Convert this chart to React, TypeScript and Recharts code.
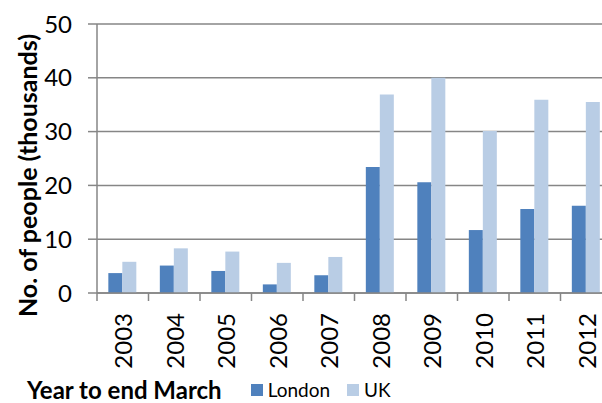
import { BarChart, Bar, XAxis, YAxis, CartesianGrid, Legend } from "recharts";

const years = ["2003", "2004", "2005", "2006", "2007", "2008", "2009", "2010", "2011", "2012"];
const london = [3.7, 5.1, 4.1, 1.6, 3.3, 23.4, 20.6, 11.7, 15.6, 16.2];
const uk = [5.8, 8.3, 7.7, 5.6, 6.7, 36.9, 40.0, 30.1, 35.9, 35.5];
const yTicks = [0, 10, 20, 30, 40, 50];

const LONDON = "#4F81BD";
const UK = "#B9CDE5";
const GRID = "#868686";
const FONT = "Lato, 'Open Sans', sans-serif";

const data = years.map((year, i) => ({ year, London: london[i], UK: uk[i] }));

// tick mark sits on the band boundary, label is rotated
function YearTick(props: any) {
  const { x, y, payload } = props;
  const half = payload && payload.offset ? payload.offset : 25.75;
  return (
    <g>
      <line x1={x - half} x2={x - half} y1={y} y2={y + 8} stroke={GRID} strokeWidth={1.5} />
      <text
        x={x}
        y={y + 20}
        transform={`rotate(-90 ${x} ${y + 20})`}
        textAnchor="end"
        dominantBaseline="central"
        fontFamily={FONT}
        fontSize={24}
        fill="#000"
      >
        {payload.value}
      </text>
    </g>
  );
}

function YTitle(props: any) {
  const vb = props.viewBox || { x: 0, y: 24, width: 97, height: 269 };
  const cx = vb.x + 27;
  const cy = vb.y + vb.height / 2 + 17;
  return (
    <text
      x={cx}
      y={cy}
      transform={`rotate(-90 ${cx} ${cy})`}
      textAnchor="middle"
      dominantBaseline="central"
      fontFamily={FONT}
      fontSize={25}
      fontWeight="bold"
      fill="#000"
    >
      No. of people (thousands)
    </text>
  );
}

function BottomLegend(props: any) {
  const items = props.payload || [];
  return (
    <div
      style={{
        display: "flex",
        alignItems: "center",
        height: 26,
        lineHeight: "26px",
        paddingLeft: 27,
        fontFamily: FONT,
        color: "#000",
      }}
    >
      <span style={{ fontSize: 24, fontWeight: "bold", marginRight: 29 }}>Year to end March</span>
      {items.map((it: any) => (
        <span key={it.value} style={{ display: "flex", alignItems: "center", marginRight: 17, fontSize: 19 }}>
          <span style={{ display: "inline-block", width: 12, height: 12, background: it.color, marginRight: 5 }} />
          {it.value}
        </span>
      ))}
    </div>
  );
}

export default function App() {
  return (
    <div style={{ width: 602, height: 403, overflow: "hidden", position: "absolute", top: 0, left: 0, background: "#fff" }}>
      <BarChart
        width={620}
        height={403}
        data={data}
        margin={{ top: 24, right: 8, left: 0, bottom: 0 }}
        barCategoryGap="22%"
        barGap={0}
      >
        <CartesianGrid vertical={false} stroke={GRID} strokeWidth={1.5} />
        <XAxis
          dataKey="year"
          height={84}
          axisLine={{ stroke: GRID, strokeWidth: 1.5 }}
          tickLine={false}
          tickSize={0}
          tickMargin={0}
          interval={0}
          tick={<YearTick />}
        />
        <YAxis
          width={97}
          domain={[0, 50]}
          ticks={yTicks}
          axisLine={{ stroke: GRID, strokeWidth: 1.5 }}
          tickLine={{ stroke: GRID, strokeWidth: 1.5 }}
          tickSize={9}
          tickMargin={16}
          tick={{ fontFamily: FONT, fontSize: 24, fill: "#000" }}
          label={<YTitle />}
        />
        <Legend
          verticalAlign="bottom"
          height={26}
          content={<BottomLegend />}
          wrapperStyle={{ left: 0, width: 602, top: 377 }}
        />
        <Bar dataKey="London" fill={LONDON} isAnimationActive={false} />
        <Bar dataKey="UK" fill={UK} isAnimationActive={false} />
      </BarChart>
    </div>
  );
}
